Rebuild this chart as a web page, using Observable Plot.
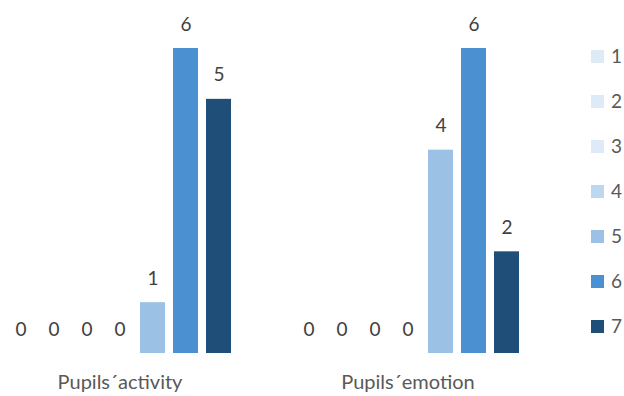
<!DOCTYPE html>
<html>
<head>
<meta charset="utf-8">
<script src="https://cdn.jsdelivr.net/npm/d3@7"></script>
<script src="https://cdn.jsdelivr.net/npm/@observablehq/plot@0.6"></script>
<style>
  body { margin: 0; background: #fff; }
  #wrap { position: relative; width: 624px; height: 396px; font-family: Lato, "Open Sans", sans-serif; }
  #legend { position: absolute; left: 591px; top: 0; }
  .item { position: absolute; left: 0; width: 40px; height: 20px; }
  .sw { position: absolute; left: 0; top: 3px; width: 13px; height: 13px; }
  .lab { position: absolute; left: 20px; top: -1px; font-size: 19px; line-height: 20px; color: #595959; }
</style>
</head>
<body>
<div id="wrap"><div id="legend"></div></div>
<script>
const groups = ["Pupils´activity", "Pupils´emotion"];
const series = ["1", "2", "3", "4", "5", "6", "7"];
const activity = [0, 0, 0, 0, 1, 6, 5];
const emotion = [0, 0, 0, 0, 4, 6, 2];
const colors = ["#DEEBF7", "#DEEBF7", "#DEEBF7", "#BDD7EE", "#9BC2E5", "#4B90D0", "#1F4E79"];

const data = [];
series.forEach((s, i) => data.push({group: groups[0], series: s, value: activity[i]}));
series.forEach((s, i) => data.push({group: groups[1], series: s, value: emotion[i]}));

const chart = Plot.plot({
  width: 624,
  height: 396,
  marginLeft: 0,
  marginRight: 97,
  marginTop: 48,
  marginBottom: 43,
  style: {fontFamily: "Lato, 'Open Sans', sans-serif", background: "transparent"},
  fx: {domain: groups, paddingInner: 0.176, paddingOuter: 0, label: null},
  x: {domain: series, paddingInner: 0.235, paddingOuter: 0.118, axis: null},
  y: {domain: [0, 6], axis: null},
  color: {domain: series, range: colors},
  marks: [
    Plot.barY(data, {fx: "group", x: "series", y: "value", fill: "series"}),
    Plot.text(data, {fx: "group", x: "series", y: "value", text: d => String(d.value), dy: -24, fontSize: 19, fill: "#404040"}),
    Plot.axisFx({anchor: "bottom", tickSize: 0, tickPadding: 21, fontSize: 20, color: "#595959", label: null})
  ]
});
document.getElementById("wrap").prepend(chart);

const legend = document.getElementById("legend");
const ys = [57, 102, 147, 192, 237, 282, 327];
series.forEach((s, i) => {
  const it = document.createElement("div");
  it.className = "item";
  it.style.top = (ys[i] - 10) + "px";
  it.innerHTML = `<div class="sw" style="background:${colors[i]}"></div><div class="lab">${s}</div>`;
  legend.appendChild(it);
});
</script>
</body>
</html>
